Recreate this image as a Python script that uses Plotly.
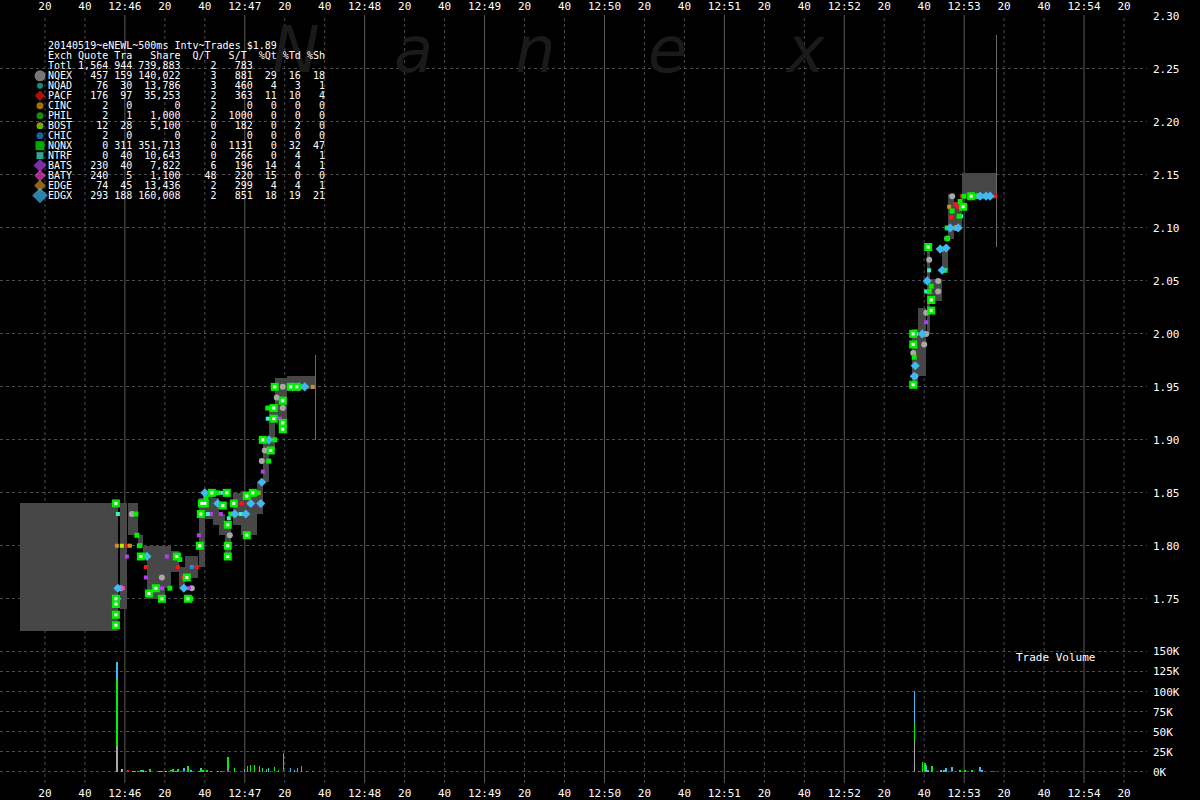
import plotly.graph_objects as go

# ---------------- axis ticks (x = seconds after 12:45:00) ----------------
TICK_T = [20, 40, 60, 80, 100, 120, 140, 160, 180, 200, 220, 240, 260, 280, 300,
          320, 340, 360, 380, 400, 420, 440, 460, 480, 500, 520, 540, 560]
TICK_LABELS = ["20", "40", "12:46", "20", "40", "12:47", "20", "40", "12:48", "20", "40",
               "12:49", "20", "40", "12:50", "20", "40", "12:51", "20", "40", "12:52",
               "20", "40", "12:53", "20", "40", "12:54", "20"]
PRICE_TICKS = [1.75, 1.80, 1.85, 1.90, 1.95, 2.00, 2.05, 2.10, 2.15, 2.20, 2.25, 2.30]
VOL_TICKS_K = [0, 25, 50, 75, 100, 125, 150]

# ---------------- summary table ----------------
TITLE = "20140519~eNEWL~500ms Intv~Trades $1.89"
HEADER = "Exch Quote Tra   Share  Q/T   S/T  %Qt %Td %Sh"
TOTAL = ["Totl", 1564, 944, 739883, 2, 783]
EXCH = ["NQEX", "NQAD", "PACF", "CINC", "PHIL", "BOST", "CHIC", "NQNX", "NTRF", "BATS", "BATY", "EDGE", "EDGX"]
QUOTES = [457, 76, 176, 2, 2, 12, 2, 0, 0, 230, 240, 74, 293]
TRADES = [159, 30, 97, 0, 1, 28, 0, 311, 40, 40, 5, 45, 188]
SHARES = [140022, 13786, 35253, 0, 1000, 5100, 0, 351713, 10643, 7822, 1100, 13436, 160008]
Q_PER_T = [3, 3, 2, 2, 2, 0, 2, 0, 0, 6, 48, 2, 2]
S_PER_T = [881, 460, 363, 0, 1000, 182, 0, 1131, 266, 196, 220, 299, 851]
PCT_QT = [29, 4, 11, 0, 0, 0, 0, 0, 0, 14, 15, 4, 18]
PCT_TD = [16, 3, 10, 0, 0, 2, 0, 32, 4, 4, 0, 4, 19]
PCT_SH = [18, 1, 4, 0, 0, 0, 0, 47, 1, 1, 0, 1, 21]

# ---------------- NBBO bands: start t, end t, low, high ----------------
BAND_T0 = [7.5, 57.5, 61.5, 66.5, 69, 71, 80, 83, 87, 90, 97, 100, 104, 107, 110, 114, 118, 126, 129, 132, 135, 138, 141,
           454, 457, 461.5, 463, 469, 472, 475, 479]
BAND_T1 = [56.5, 61, 66.5, 69, 71, 80, 83, 87, 90, 96.5, 100, 104, 107, 110, 113, 118, 126, 129, 132, 135, 138, 141, 155,
           457, 461, 463, 469, 472, 475, 479, 496.5]
BAND_LO = [1.72, 1.74, 1.81, 1.80, 1.79, 1.75, 1.76, 1.775, 1.76, 1.77, 1.78, 1.825, 1.82, 1.81, 1.79, 1.82, 1.81, 1.83, 1.86, 1.89, 1.92, 1.91, 1.948,
           1.95, 1.96, 2.00, 2.031, 2.06, 2.09, 2.10, 2.132]
BAND_HI = [1.84, 1.84, 1.84, 1.81, 1.80, 1.80, 1.80, 1.795, 1.78, 1.79, 1.845, 1.85, 1.845, 1.83, 1.82, 1.85, 1.852, 1.86, 1.90, 1.933, 1.958, 1.958, 1.96,
           2.005, 2.024, 2.08, 2.052, 2.082, 2.132, 2.124, 2.152]
SPIKE_T = [155.3, 496.2]
SPIKE_LO = [1.90, 2.082]
SPIKE_HI = [1.98, 2.282]

# ---------------- trades (t, price) per exchange ----------------
NQEX_TR = [(58, 1.76), (63.5, 1.83), (78.5, 1.77), (93.5, 1.76), (112.5, 1.81), (128.5, 1.88), (130, 1.89), (136, 1.94),
           (139, 1.93), (139, 1.95), (454.5, 1.982), (455.5, 1.96), (460, 1.99), (461, 2.00), (461, 2.02), (467, 2.04),
           (467, 2.05), (462.5, 2.07), (471.5, 2.09), (476, 2.10), (474, 2.13), (487, 2.13)]
NQNX_TR = [(65.5, 1.83), (66, 1.81), (67.5, 1.80), (82.5, 1.76), (87.5, 1.787), (93, 1.75), (100.5, 1.845), (106, 1.85),
           (113, 1.83), (126, 1.85), (132, 1.88), (135, 1.90), (131.5, 1.93), (148, 1.95), (455, 1.978), (462.5, 2.04),
           (463.5, 2.045), (470.5, 2.06), (469, 2.08), (471.5, 2.09), (471.5, 2.10), (477.5, 2.111), (474, 2.116),
           (478, 2.125), (480, 2.13), (486, 2.13), (490.5, 2.13)]
NQNX_LARGE = [(55.5, 1.84), (55.5, 1.75), (55.5, 1.745), (55.5, 1.735), (55.5, 1.725), (72, 1.755), (75.5, 1.76), (78.5, 1.75),
              (68, 1.79), (86, 1.79), (91, 1.77), (91.5, 1.75), (97.5, 1.80), (98, 1.83), (98.5, 1.84), (100, 1.84),
              (103.5, 1.85), (109, 1.838), (111, 1.85), (111.5, 1.82), (111.5, 1.80), (111.5, 1.79), (114.5, 1.84),
              (121, 1.81), (121, 1.847), (124, 1.85), (129, 1.90), (133, 1.89), (134.5, 1.92), (134.5, 1.93), (135, 1.95),
              (139, 1.91), (139, 1.916), (139, 1.937), (143, 1.95), (146, 1.95), (454.5, 1.952), (454.5, 1.99),
              (454.5, 2.00), (463.5, 2.022), (463.5, 2.032), (462, 2.082), (479.5, 2.12), (483.5, 2.13)]
EDGX_TR = [(56, 1.75), (56.5, 1.76), (71, 1.79), (89.5, 1.76), (100, 1.85), (106.5, 1.84), (115, 1.83), (120.5, 1.83),
           (123, 1.84), (128, 1.84), (128.5, 1.86), (132, 1.90), (144, 1.95), (147, 1.95), (150, 1.95), (455, 1.96),
           (455.5, 1.97), (459, 2.00), (461.5, 2.05), (469, 2.06), (468, 2.08), (471, 2.081), (473, 2.10), (477, 2.10),
           (488, 2.13), (491, 2.13), (493, 2.13)]
PACF_TR = [(61, 1.80), (66, 1.81), (70.5, 1.78), (86.5, 1.78), (89, 1.77), (96, 1.78), (118.5, 1.84), (122, 1.84),
           (132, 1.88), (132.5, 1.90), (473.5, 2.11), (475.5, 2.122), (477, 2.12), (479, 2.13), (495.5, 2.13)]
BATS_TR = [(61, 1.79), (70.5, 1.77), (78.5, 1.76), (81, 1.79), (92, 1.76), (97, 1.81), (103, 1.83), (108, 1.83),
           (129, 1.87), (137.5, 1.92), (461, 2.011)]
BATY_TR = [(59, 1.76)]
NTRF_TR = [(56.5, 1.83), (56, 1.76), (67, 1.80), (101.5, 1.83), (107, 1.85), (109, 1.85), (112, 1.826), (118, 1.83),
           (131.5, 1.92), (145, 1.95), (456, 2.00), (461, 2.04), (462.5, 2.06), (478.5, 2.111), (489, 2.13)]
EDGE_TR = [(56, 1.80), (62.5, 1.80), (127, 1.85), (154, 1.95), (472.5, 2.12)]
CHIC_TR = [(93.5, 1.78), (115.5, 1.83)]
BOST_TR = [(58.5, 1.80)]

# ---------------- trade volume (t, exchange, thousand shares) ----------------
VOL_T = [56, 56, 56, 58.5, 58.5, 61.5, 64, 65, 66.5, 68, 69, 69, 70.5, 72.5, 77, 78, 80.5, 83, 83, 84, 84, 85.5, 86.5,
         89.5, 89.5, 91.5, 93, 93, 97, 98, 98, 99, 101, 101, 103, 106.5, 108, 111.5, 111.5, 115, 118, 120, 120, 121.5,
         123, 125, 125, 127.5, 127.5, 129, 129, 131, 131, 132, 135, 135, 137, 139.5, 139.5, 143, 145, 146.5, 146.5,
         148.5, 151, 154,
         455, 455, 455, 457, 459, 460.5, 461, 462, 464, 468.5, 468.5, 470, 471, 474, 474, 476, 478, 480.5, 484, 488, 488,
         489, 495]
VOL_EX = ["NQEX", "NQNX", "EDGX", "NQEX", "BOST", "PACF", "NQEX", "NQNX", "NQNX", "NQNX", "NQEX", "EDGX", "NQNX", "NQNX",
          "NQNX", "NQEX", "NQEX", "NQNX", "PACF", "NQNX", "EDGX", "NQNX", "NQNX", "EDGX", "PACF", "NQNX", "NQNX", "EDGX",
          "NQNX", "NQNX", "EDGX", "NQNX", "NQNX", "EDGX", "NQNX", "EDGX", "NQNX", "NQNX", "BATS", "NQNX", "PACF", "EDGX",
          "NQNX", "NQNX", "NQNX", "NQNX", "EDGX", "EDGX", "NQNX", "NQNX", "EDGX", "NQNX", "EDGX", "EDGX", "NQNX", "PACF",
          "NQNX", "NQNX", "PACF", "EDGX", "EDGX", "EDGX", "NQNX", "NQNX", "EDGX", "EDGE",
          "NQEX", "NQNX", "EDGX", "NQEX", "NQNX", "NQNX", "EDGX", "EDGX", "NQNX", "EDGX", "NQEX", "EDGX", "EDGX", "EDGX",
          "PACF", "PACF", "NQNX", "NQNX", "NQNX", "EDGX", "PACF", "EDGX", "PACF"]
VOL_K = [32, 82, 23, 2, 1.5, 2.5, 1, 1.5, 1, 2, 1.5, 1, 1, 3.5, 1, 1, 1, 1, 1, 2.5, 1, 1.5, 4,
         3.5, 1, 8, 1.5, 1, 1.5, 3, 1.5, 2, 2, 1, 1, 1.5, 1, 16, 3, 4.5, 1, 2.5, 1.5, 7.5,
         8.5, 8, 1, 6, 1, 3.5, 2, 3, 1, 5, 5, 1, 2, 22, 2, 5, 2.5, 3.5, 1, 7.5, 1, 1,
         38, 23, 40, 1, 12.5, 11, 9, 2, 7, 2, 1, 3, 5, 5, 1, 1.5, 3, 3, 2, 5, 1, 2, 1]

# ---------------- styling ----------------
COLORS = {"NQEX": "#a8a8a8", "NQAD": "#20c8a8", "PACF": "#ff1414", "CINC": "#f0a010", "PHIL": "#1ec81e",
          "BOST": "#b4f000", "CHIC": "#2090e0", "NQNX": "#00f000", "NTRF": "#40f0c8", "BATS": "#b040f0",
          "BATY": "#f040c8", "EDGE": "#d09020", "EDGX": "#40b8f0"}
LEG_SYM = {"NQEX": ("circle", 11), "NQAD": ("circle", 6), "PACF": ("diamond", 8), "CINC": ("circle", 7),
           "PHIL": ("circle", 7), "BOST": ("circle", 7), "CHIC": ("circle", 7), "NQNX": ("square", 9),
           "NTRF": ("square", 7), "BATS": ("diamond", 10), "BATY": ("diamond", 9), "EDGE": ("diamond", 9),
           "EDGX": ("diamond", 12)}
FONT = "DejaVu Sans Mono"
BAND_COLOR = "#474747"
MIN_LINE = "#5c5c5c"
GRID = "#4c4c4c"

fig = go.Figure()

# NBBO bands
fig.add_trace(go.Bar(
    x=[(a + b) / 2 for a, b in zip(BAND_T0, BAND_T1)],
    y=[h - l for l, h in zip(BAND_LO, BAND_HI)],
    base=BAND_LO, width=[b - a for a, b in zip(BAND_T0, BAND_T1)],
    marker=dict(color=BAND_COLOR, line_width=0), xaxis="x", yaxis="y", hoverinfo="skip"))
fig.add_trace(go.Bar(
    x=SPIKE_T, y=[h - l for l, h in zip(SPIKE_LO, SPIKE_HI)], base=SPIKE_LO, width=0.5,
    marker=dict(color="#6a6a6a", line_width=0), xaxis="x", yaxis="y", hoverinfo="skip"))


def add_trades(pts, color, symbol, size, xa="x", ya="y"):
    fig.add_trace(go.Scatter(
        x=[p[0] for p in pts], y=[p[1] for p in pts], mode="markers", xaxis=xa, yaxis=ya,
        marker=dict(color=color, symbol=symbol, size=size, line_width=0), hoverinfo="skip"))


add_trades(NQEX_TR, COLORS["NQEX"], "circle", 6)
add_trades(BATS_TR, COLORS["BATS"], "square", 4)
add_trades(BATY_TR, COLORS["BATY"], "square", 4)
add_trades(PACF_TR, COLORS["PACF"], "square", 4)
add_trades(NTRF_TR, COLORS["NTRF"], "square", 4)
add_trades(EDGE_TR, COLORS["EDGE"], "square", 4)
add_trades(CHIC_TR, COLORS["CHIC"], "square", 4)
add_trades(BOST_TR, COLORS["BOST"], "square", 4)
add_trades(NQNX_TR, COLORS["NQNX"], "square", 5)
add_trades(EDGX_TR, COLORS["EDGX"], "diamond", 7)
add_trades(NQNX_LARGE, COLORS["NQNX"], "square", 8)
add_trades(NQNX_LARGE, "#ffffff", "square", 3)

# trade volume (stacked per exchange)
for ex in ["NQEX", "BOST", "PACF", "BATS", "EDGE", "NQNX", "NTRF", "EDGX"]:
    xs = [t for t, e in zip(VOL_T, VOL_EX) if e == ex]
    ys = [v * 1000 for v, e in zip(VOL_K, VOL_EX) if e == ex]
    if xs:
        fig.add_trace(go.Bar(x=xs, y=ys, width=0.7, marker=dict(color=COLORS[ex], line_width=0),
                             xaxis="x2", yaxis="y2", hoverinfo="skip"))

# legend markers of the summary table (pixel overlay axes)
ROW0_Y, ROW_DY, TXT_X, MARK_X = 76, 10, 48, 40
fig.add_trace(go.Scatter(
    x=[MARK_X] * len(EXCH), y=[ROW0_Y + ROW_DY * i for i in range(len(EXCH))], mode="markers",
    xaxis="x3", yaxis="y3", hoverinfo="skip",
    marker=dict(color=[COLORS[e] for e in EXCH], symbol=[LEG_SYM[e][0] for e in EXCH],
                size=[LEG_SYM[e][1] for e in EXCH], line_width=0)))

anns = []


def txt(s, x, y, size=10, color="#ffffff", xanchor="left", **kw):
    anns.append(dict(text=s.replace(" ", "\u00a0"), x=x, y=y, xref="x3", yref="y3", showarrow=False,
                     xanchor=xanchor, yanchor="middle", font=dict(family=FONT, size=size, color=color), **kw))


# watermark (drawn first, behind the table text)
for ch, xc in zip(["N", "a", "n", "e", "x"], [296, 413, 535, 667, 805]):
    anns.append(dict(text=ch, x=xc, y=50, xref="x3", yref="y3", showarrow=False, xanchor="center",
                     yanchor="middle", font=dict(family="DejaVu Sans", size=64, color="#1a1a1a", style="italic")))

lines = [TITLE, HEADER,
         f"{TOTAL[0]:<4}{TOTAL[1]:>6,}{TOTAL[2]:>4}{TOTAL[3]:>8,}{TOTAL[4]:>6}{TOTAL[5]:>6}"]
for i, e in enumerate(EXCH):
    lines.append(f"{e:<4}{QUOTES[i]:>6,}{TRADES[i]:>4}{SHARES[i]:>8,}{Q_PER_T[i]:>6}{S_PER_T[i]:>6}"
                 f"{PCT_QT[i]:>4}{PCT_TD[i]:>4}{PCT_SH[i]:>4}")
for k, s in enumerate(lines):
    txt(s, TXT_X - 2, 46 + ROW_DY * k)

txt("Trade Volume", 1055, 659, size=11, xanchor="center")

# vertical grid lines (solid at minutes, dashed at 20 s)
shapes = []
for t, lab in zip(TICK_T, TICK_LABELS):
    minute = ":" in lab
    shapes.append(dict(type="line", xref="x", yref="paper", x0=t, x1=t, y0=0, y1=1, layer="below",
                       line=dict(color=MIN_LINE if minute else GRID, width=1, dash="solid" if minute else "3px,3px")))

XR = [-2.5, 571.5]
tickfont = dict(family=FONT, size=11, color="#ffffff")
fig.update_layout(
    width=1200, height=800, margin=dict(l=0, r=53, t=15, b=15),
    paper_bgcolor="#000000", plot_bgcolor="rgba(0,0,0,0)", showlegend=False,
    barmode="stack", bargap=0, hovermode=False,
    annotations=anns, shapes=shapes,
    xaxis=dict(domain=[0, 1], anchor="y", range=XR, side="top", tickmode="array", tickvals=TICK_T,
               ticktext=TICK_LABELS, showgrid=False, zeroline=False, ticks="", tickfont=tickfont,
               ticklabelstandoff=2),
    yaxis=dict(domain=[0.18693, 1], anchor="x", side="right", range=[1.71165, 2.30094], tickmode="array",
               tickvals=PRICE_TICKS, ticktext=[f"{p:.2f}" for p in PRICE_TICKS], showgrid=True, gridcolor=GRID,
               griddash="3px,3px", gridwidth=1, zeroline=False, ticks="", tickfont=tickfont, ticklabelstandoff=5),
    xaxis2=dict(domain=[0, 1], anchor="y2", range=XR, matches="x", side="bottom", tickmode="array",
                tickvals=TICK_T, ticktext=TICK_LABELS, showgrid=False, zeroline=False, ticks="", tickfont=tickfont,
                ticklabelstandoff=2),
    yaxis2=dict(domain=[0, 0.1817], anchor="x2", side="right", range=[-13750, 160000], tickmode="array",
                tickvals=[v * 1000 for v in VOL_TICKS_K], ticktext=[f"{v}K" for v in VOL_TICKS_K], showgrid=True,
                gridcolor=GRID, griddash="3px,3px", gridwidth=1, zeroline=False, ticks="", tickfont=tickfont,
                ticklabelstandoff=5),
    xaxis3=dict(domain=[0, 1], anchor="y3", range=[0, 1147], visible=False, fixedrange=True),
    yaxis3=dict(domain=[0, 1], anchor="x3", range=[785, 15], visible=False, fixedrange=True),
)

fig.write_html("out.html", config={"displayModeBar": False, "staticPlot": True},
               post_script="document.body.style.margin='0';")
